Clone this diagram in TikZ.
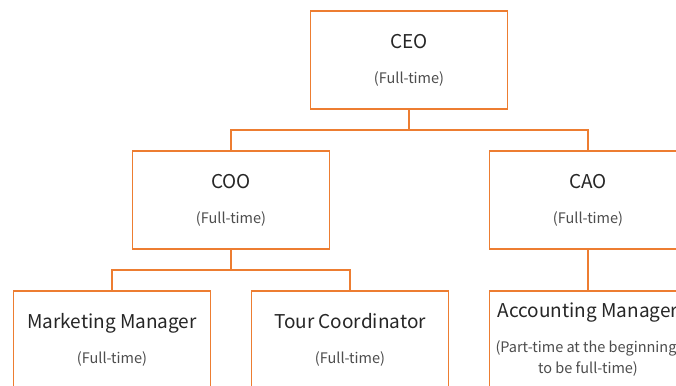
\documentclass[tikz,border=0pt]{standalone}
\usepackage{fontspec}
\setmainfont{Noto Sans CJK JP}
\definecolor{lineorange}{HTML}{ED7D31}
\definecolor{titlegray}{HTML}{262626}
\definecolor{subgray}{HTML}{4D4D4D}
\newcommand{\subtext}[1]{{\fontsize{14.5}{21}\selectfont\color{subgray}#1}}

\begin{document}
\begin{tikzpicture}[x=1pt, y=-1pt, thick,
    post/.style={draw=lineorange, line width=1.5pt, fill=white, anchor=north,
                 outer sep=0pt, minimum width=197pt, minimum height=98pt,
                 align=center, text=titlegray, font=\fontsize{19}{22}\selectfont,
                 execute at begin node=\rule{0pt}{26pt}},
    link/.style={draw=lineorange, line width=1.5pt}]
    \useasboundingbox (0,0) rectangle (676,385);
    \clip (0,0) rectangle (676,385);

    \node[post] (ceo) at (409,11) {CEO\\[13pt]\subtext{(Full-time)}};
    \node[post] (coo) at (231,151) {COO\\[13pt]\subtext{(Full-time)}};
    \node[post] (cao) at (588,151) {CAO\\[13pt]\subtext{(Full-time)}};
    \node[post] (mkt) at (112,291) {Marketing Manager\\[13pt]\subtext{(Full-time)}};
    \node[post] (tour) at (350,291) {Tour Coordinator\\[13pt]\subtext{(Full-time)}};
    \node[post] (acct) at (588,291) {Accounting Manager\\[13pt]\subtext{(Part-time at the beginning,}\\[-1pt]\subtext{to be full-time)}};

    \draw[link] (ceo.south) -- ++(0,21) -| (coo.north);
    \draw[link] (ceo.south) -- ++(0,21) -| (cao.north);
    \draw[link] (coo.south) -- ++(0,21) -| (mkt.north);
    \draw[link] (coo.south) -- ++(0,21) -| (tour.north);
    \draw[link] (cao.south) -- (acct.north);
\end{tikzpicture}
\end{document}
